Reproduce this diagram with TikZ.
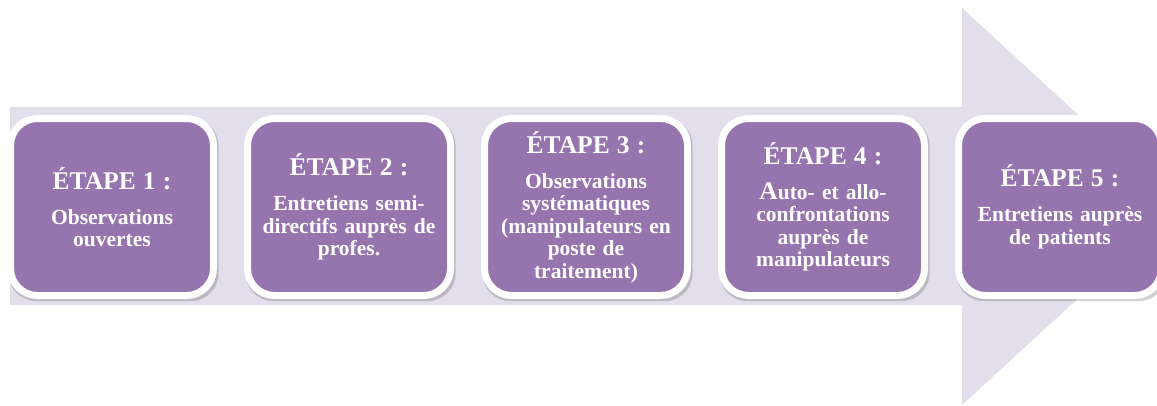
\documentclass[tikz,border=0pt]{standalone}
\usepackage{fontspec}
\setmainfont{Liberation Serif}
\usetikzlibrary{positioning,shadows}

\definecolor{flechefond}{RGB}{227,222,235}
\definecolor{etapeviolet}{RGB}{150,116,174}

\newcommand{\titrefont}{\fontsize{25.5}{27}\selectfont}
\newcommand{\etapetitre}[2][12.5pt]{{\titrefont #2}\\[#1]}

\tikzset{
  etape/.style={draw=white, line width=7pt, fill=etapeviolet, rounded corners=27pt,
    minimum width=203pt, minimum height=177pt, inner sep=0pt,
    text width=198pt, align=center, text=white,
    font=\fontsize{21.5}{22.5}\selectfont\bfseries,
    drop shadow={shadow scale=1.035, shadow xshift=1.5pt, shadow yshift=-2.5pt,
      opacity=0.3, fill=black!60}},
}

\begin{document}
\begin{tikzpicture}[x=1pt, y=-1pt]
\useasboundingbox (0,0) rectangle (1157,405);
\clip (0,0) rectangle (1157,405);

% Background arrow
\fill[flechefond] (10,107) -- (962,107) -- (962,8) -- (1178,206.5)
  -- (962,405) -- (962,305) -- (10,305) -- cycle;

% Steps
\node[etape] (e1) at (112,207) {\etapetitre{ÉTAPE 1 :}Observations\\ouvertes};
\node[etape, right=27pt of e1] (e2) {\etapetitre{ÉTAPE 2 :}Entretiens semi-\\directifs auprès de\\profes.};
\node[etape, right=27pt of e2] (e3)
  {\etapetitre{ÉTAPE 3 :}Observations\\systématiques\\(manipulateurs en\\poste de\\traitement)};
\node[etape, right=27pt of e3] (e4) {\etapetitre{ÉTAPE 4 :}{\titrefont A}uto- et allo-\\confrontations\\auprès de\\manipulateurs};
\node[etape, right=27pt of e4] (e5) {\etapetitre{ÉTAPE 5 :}Entretiens auprès\\de patients};

\end{tikzpicture}
\end{document}
